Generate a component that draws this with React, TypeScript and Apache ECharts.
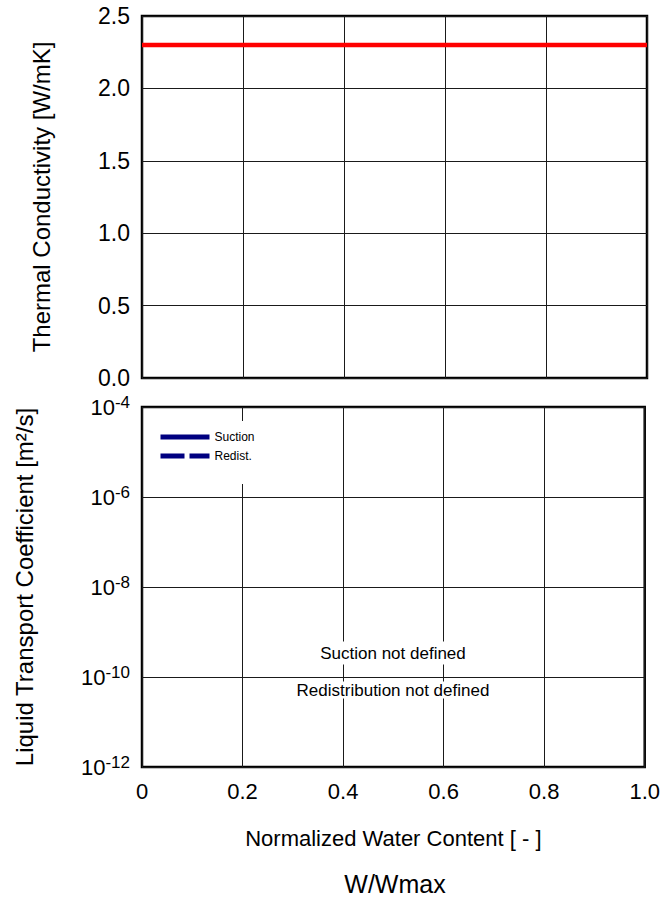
import React, { useEffect, useRef } from "react";
import * as echarts from "echarts";

// ---- data ----
const xTickValues = [0, 0.2, 0.4, 0.6, 0.8, 1.0];
const thermalX = [0, 1];
const thermalY = [2.3, 2.3];
const suctionData: number[][] = [];
const redistData: number[][] = [];
const legendNames = ["Suction", "Redist."];
const noteTexts = ["Suction not defined", "Redistribution not defined"];
const xAxisTitle = "Normalized Water Content [ - ]";
const xAxisSubTitle = "W/Wmax";
const topYTitle = "Thermal Conductivity [W/mK]";
const bottomYTitle = "Liquid Transport Coefficient [m\u00b2/s]";

const FONT = "'Liberation Sans', Arial, Helvetica, sans-serif";

export default function App() {
  const ref = useRef<HTMLDivElement>(null);
  useEffect(() => {
    document.body.style.margin = "0";
    if (!ref.current) return;
    const chart = echarts.init(ref.current, null, { renderer: "svg" });
    const gridLine = { show: true, lineStyle: { color: "#1a1a1a", width: 1 } };
    const thermalData = thermalX.map((x, i) => [x, thermalY[i]]);
    chart.setOption({
      animation: false,
      backgroundColor: "#fff",
      textStyle: { fontFamily: FONT },
      grid: [
        { left: 142, top: 16, width: 505, height: 362, show: true, borderColor: "#000", borderWidth: 2.5, backgroundColor: "transparent" },
        { left: 142, top: 407, width: 505, height: 360, show: true, borderColor: "#000", borderWidth: 2.5, backgroundColor: "transparent" },
      ],
      legend: {
        data: legendNames,
        orient: "vertical",
        left: 148,
        top: 421,
        padding: [10, 8, 22, 10],
        itemGap: 7,
        itemWidth: 49,
        itemHeight: 14,
        backgroundColor: "#fff",
        textStyle: { fontSize: 12, color: "#000", fontFamily: FONT },
        lineStyle: { width: 5 },
        itemStyle: { opacity: 0 },
      },
      xAxis: [
        {
          type: "value", gridIndex: 0, min: 0, max: 1, interval: 0.2,
          axisLine: { show: false }, axisTick: { show: false }, axisLabel: { show: false },
          splitLine: gridLine,
        },
        {
          type: "value", gridIndex: 1, min: 0, max: 1, interval: 0.2,
          axisLine: { show: false }, axisTick: { show: false },
          axisLabel: {
            fontSize: 22, color: "#000", margin: 13, fontFamily: FONT,
            formatter: (v: number) => (v === 0 ? "0" : v.toFixed(1)),
          },
          splitLine: gridLine,
          name: xAxisTitle,
          nameLocation: "middle",
          nameGap: 60,
          nameTextStyle: { fontSize: 22, color: "#000", fontFamily: FONT },
        },
      ],
      yAxis: [
        {
          type: "value", gridIndex: 0, min: 0, max: 2.5, interval: 0.5,
          axisLine: { show: false }, axisTick: { show: false },
          axisLabel: { fontSize: 23, color: "#000", margin: 12, fontFamily: FONT, formatter: (v: number) => v.toFixed(1) },
          splitLine: gridLine,
          name: topYTitle,
          nameLocation: "middle",
          nameGap: 89,
          nameTextStyle: { fontSize: 24, color: "#000", fontFamily: FONT },
        },
        {
          type: "log", logBase: 10, gridIndex: 1, min: 1e-12, max: 1e-4, interval: 2,
          axisLine: { show: false }, axisTick: { show: false },
          minorTick: { show: false }, minorSplitLine: { show: false },
          axisLabel: {
            margin: 12, color: "#000", fontFamily: FONT,
            formatter: (v: number) => "{b|10}{s|-" + Math.abs(Math.round(Math.log10(v))) + "}",
            rich: {
              b: { fontSize: 22, color: "#000", fontFamily: FONT, lineHeight: 26 },
              s: { fontSize: 17, color: "#000", fontFamily: FONT, verticalAlign: "top" },
            },
          },
          splitLine: gridLine,
          name: bottomYTitle,
          nameLocation: "middle",
          nameGap: 106,
          nameTextStyle: { fontSize: 24, color: "#000", fontFamily: FONT },
        },
      ],
      series: [
        {
          name: "Thermal Conductivity", type: "line", xAxisIndex: 0, yAxisIndex: 0,
          data: thermalData, symbol: "none", lineStyle: { color: "#ff0000", width: 4.5 }, z: 5,
        },
        {
          name: legendNames[0], type: "line", xAxisIndex: 1, yAxisIndex: 1,
          data: suctionData, symbol: "none", color: "#000080",
          lineStyle: { color: "#000080", width: 5, type: "solid" },
        },
        {
          name: legendNames[1], type: "line", xAxisIndex: 1, yAxisIndex: 1,
          data: redistData, symbol: "none", color: "#000080",
          lineStyle: { color: "#000080", width: 5, type: [24, 5] },
        },
      ],
      graphic: [
        {
          type: "text", z: 100,
          style: {
            text: noteTexts[0], x: 393, y: 653, align: "center", verticalAlign: "middle",
            fontSize: 17, fill: "#000", fontFamily: FONT, backgroundColor: "#fff", padding: [3, 3],
          },
        },
        {
          type: "text", z: 100,
          style: {
            text: noteTexts[1], x: 393, y: 690, align: "center", verticalAlign: "middle",
            fontSize: 17, fill: "#000", fontFamily: FONT, backgroundColor: "#fff", padding: [0, 3],
          },
        },
        {
          type: "text", z: 100,
          style: {
            text: xAxisSubTitle, x: 395, y: 884, align: "center", verticalAlign: "middle",
            fontSize: 25, fill: "#000", fontFamily: FONT,
          },
        },
      ],
    });
    return () => chart.dispose();
  }, []);
  return <div ref={ref} style={{ width: 663, height: 898 }} />;
}
